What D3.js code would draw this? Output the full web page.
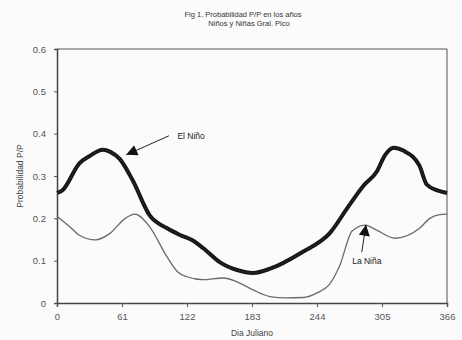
<!DOCTYPE html>
<html><head><meta charset="utf-8">
<script src="https://cdn.jsdelivr.net/npm/d3@7/dist/d3.min.js"></script>
<style>
html,body{margin:0;padding:0;background:#fbfbfb;}
svg{display:block;font-family:"Liberation Sans",Arial,sans-serif;}
</style></head>
<body>
<svg id="c" width="462" height="340"></svg>
<script>
const titleLines = ["Fig 1. Probabilidad P/P en los años", "Niños y Niñas  Gral. Pico"];
const xTicks = [0, 61, 122, 183, 244, 305, 366];
const yTicks = [0, 0.1, 0.2, 0.3, 0.4, 0.5, 0.6];
const elNinoDays = [0, 5, 21, 31, 43, 50, 59, 71, 87, 103, 116, 127, 137, 153, 169, 184, 200, 230, 256, 274, 288, 300, 308, 316, 325, 340, 347, 357, 366];
const elNinoVals = [0.26, 0.266, 0.33, 0.348, 0.362, 0.357, 0.34, 0.29, 0.207, 0.177, 0.16, 0.148, 0.13, 0.096, 0.078, 0.071, 0.081, 0.12, 0.165, 0.23, 0.278, 0.31, 0.35, 0.367, 0.36, 0.325, 0.28, 0.266, 0.26];
const laNinaDays = [0, 12, 21, 36, 50, 64, 73, 87, 103, 113, 122, 137, 156, 169, 184, 200, 215, 231, 244, 256, 265, 277, 289, 300, 317, 340, 350, 358, 366];
const laNinaVals = [0.205, 0.18, 0.16, 0.149, 0.165, 0.2, 0.21, 0.18, 0.11, 0.074, 0.062, 0.055, 0.059, 0.05, 0.031, 0.015, 0.012, 0.013, 0.024, 0.045, 0.086, 0.17, 0.184, 0.172, 0.153, 0.176, 0.2, 0.208, 0.21];

const svg = d3.select("#c");
const m = {l:57, r:15, t:49, b:37};
const W = 462, H = 340;
const x = d3.scaleLinear().domain([0,366]).range([m.l, W-m.r]);
const y = d3.scaleLinear().domain([0,0.6]).range([H-m.b, m.t]);

svg.append("defs").append("marker").attr("id","ah").attr("viewBox","0 0 10 10")
  .attr("refX",10).attr("refY",5).attr("markerWidth",6).attr("markerHeight",5)
  .attr("markerUnits","userSpaceOnUse").attr("orient","auto")
  .attr("markerWidth",14).attr("markerHeight",11)
  .append("path").attr("d","M0,0L10,5L0,10z").attr("fill","#111");

// title
svg.selectAll("text.title").data(titleLines).join("text").attr("class","title")
  .attr("x", (d,i)=> i===0?243:249).attr("y",(d,i)=>17+i*9)
  .attr("text-anchor","middle").attr("font-size",7.5).attr("fill","#333").text(d=>d);

// frame
svg.append("path").attr("d",`M${x(0)},${y(0.6)}H${x(366)}V${y(0)}`)
  .attr("fill","none").attr("stroke","#555").attr("stroke-width",1);

// axes
const ax = svg.append("g").attr("transform",`translate(0,${y(0)})`)
  .call(d3.axisBottom(x).tickValues(xTicks).tickSize(4).tickPadding(6).tickFormat(d3.format("d")));
const ay = svg.append("g").attr("transform",`translate(${x(0)},0)`)
  .call(d3.axisLeft(y).tickValues(yTicks).tickSize(3).tickPadding(8).tickFormat(d=>d===0?"0":d3.format(".1f")(d)));
[ax,ay].forEach(a=>{
  a.select(".domain").attr("stroke","#444").attr("stroke-width",1.5);
  a.selectAll(".tick line").attr("stroke","#555");
  a.selectAll(".tick text").attr("fill","#555").attr("font-size",9.5).attr("font-family","'Liberation Sans',Arial,sans-serif");
});

svg.append("text").attr("x",252).attr("y",336).attr("text-anchor","middle")
  .attr("font-size",8.5).attr("fill","#444").text("Dia Juliano");
svg.append("text").attr("transform",`translate(23,${(y(0)+y(0.6))/2}) rotate(-90)`)
  .attr("text-anchor","middle").attr("font-size",8.5).attr("fill","#444").text("Probabilidad P/P");

const line = d3.line().x(d=>x(d[0])).y(d=>y(d[1])).curve(d3.curveMonotoneX);
const elNino = elNinoDays.map((d,i)=>[d, elNinoVals[i]]);
const laNina = laNinaDays.map((d,i)=>[d, laNinaVals[i]]);

svg.append("path").datum(laNina).attr("d",line).attr("fill","none")
  .attr("stroke","#6a6a6a").attr("stroke-width",1.3);
svg.append("path").datum(elNino).attr("d",line).attr("fill","none")
  .attr("stroke","#151515").attr("stroke-width",4);
svg.append("path").datum(elNino).attr("d",line).attr("fill","none")
  .attr("stroke","#666").attr("stroke-width",1).attr("stroke-dasharray","1 2").attr("opacity",0.6);

// annotations
svg.append("line").attr("x1",x(105)).attr("y1",y(0.395)).attr("x2",x(65)).attr("y2",y(0.35))
  .attr("stroke","#222").attr("stroke-width",1).attr("marker-end","url(#ah)");
svg.append("text").attr("x",x(113)).attr("y",y(0.388)).attr("font-size",8.5).attr("fill","#222").text("El Niño");
svg.append("line").attr("x1",x(286)).attr("y1",y(0.12)).attr("x2",x(290)).attr("y2",y(0.185))
  .attr("stroke","#222").attr("stroke-width",1).attr("marker-end","url(#ah)");
svg.append("text").attr("x",x(277)).attr("y",y(0.093)).attr("font-size",8.5).attr("fill","#222").text("La Niña");
</script>
</body></html>
